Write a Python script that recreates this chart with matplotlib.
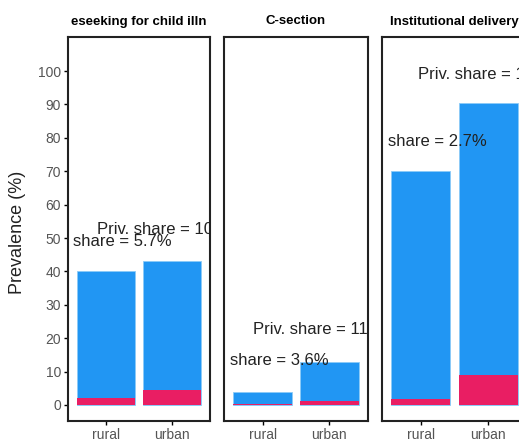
import matplotlib
matplotlib.use("Agg")
import matplotlib.pyplot as plt

plt.rcParams["font.family"] = ["Liberation Sans", "DejaVu Sans"]

# -----------------------------
# Data
# -----------------------------
panels = ["eseeking for child illn", "C-section", "Institutional delivery"]
areas = ["rural", "urban"]
total_prev = [[40.0, 43.0], [3.8, 13.0], [70.0, 90.5]]
private_prev = [[2.2, 4.5], [0.3, 1.2], [1.8, 9.0]]
priv_labels = ["Priv. share = 10.4%", "Priv. share = 11.2%", "Priv. share = 12.9%"]
share_labels = ["share = 5.7%", "share = 3.6%", "share = 2.7%"]
priv_label_pos = [(0.86, 52.5), (0.85, 22.5), (0.955, 99.0)]
share_label_pos = [(0.5, 49.0), (0.515, 13.2), (0.515, 79.0)]
yticks = [0, 10, 20, 30, 40, 50, 60, 70, 80, 90, 100]

BLUE = "#2196F3"
RED = "#E91E63"

fig = plt.figure(figsize=(5.19, 4.41), dpi=100)
fig.patch.set_facecolor("white")

# axes rectangles in figure fractions (third panel is cut off by the image edge)
lefts = [68 / 519, 224 / 519, 382 / 519]
widths = [142 / 519, 144 / 519, 145 / 519]
bottom = 20 / 441
height = 384 / 441

x = [1, 2]
for i in range(3):
    ax = fig.add_axes([lefts[i], bottom, widths[i], height])
    ax.bar(x, total_prev[i], width=0.88, color=BLUE, edgecolor="#8CCBF7", linewidth=0.6)
    ax.bar(x, private_prev[i], width=0.88, color=RED, linewidth=0)
    ax.set_xlim(0.42, 2.58)
    ax.set_ylim(-4.8, 110.2)
    ax.set_xticks(x)
    ax.set_xticklabels(areas, fontsize=10, color="#555555")
    ax.tick_params(axis="both", length=3, width=1, color="black", pad=2)
    if i == 0:
        ax.set_yticks(yticks)
        ax.set_yticklabels([str(v) for v in yticks], fontsize=10, color="#555555")
    else:
        ax.set_yticks([])
    for sp in ax.spines.values():
        sp.set_linewidth(1.5)
        sp.set_color("#222222")
    ax.set_title(panels[i], fontsize=9.5, fontweight="bold", pad=9)

    # annotations
    px, py = priv_label_pos[i]
    ax.text(px, py, priv_labels[i], fontsize=12, color="#222222",
            ha="left", va="center", clip_on=True)
    sx, sy = share_label_pos[i]
    ax.text(sx, sy, share_labels[i], fontsize=12, color="#222222",
            ha="left", va="center", clip_on=True)

fig.text(18 / 519, 1 - 232 / 441, "Prevalence (%)", rotation=90,
         fontsize=13, color="#222222", ha="center", va="center")

fig.savefig("out.png", dpi=100)
plt.close(fig)
